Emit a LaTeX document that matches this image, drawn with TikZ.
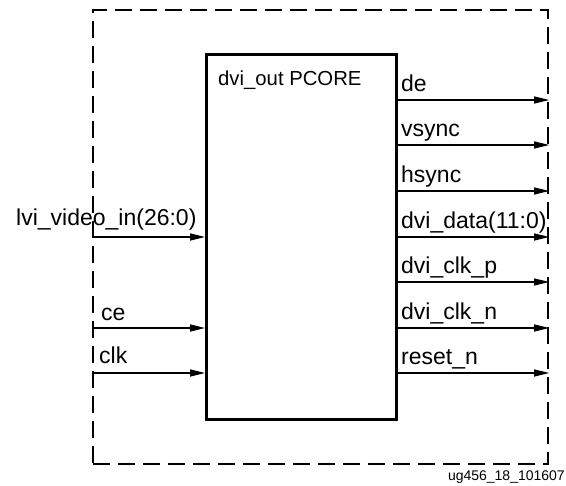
\documentclass[tikz,border=0pt]{standalone}
\usepackage{fontspec}
\setmainfont{Liberation Sans}
\usetikzlibrary{arrows.meta}
\begin{document}
\begin{tikzpicture}[x=1pt,y=-1pt,
  frame/.style={draw,dashed,dash pattern=on 17pt off 8pt,line width=2.2pt,
    minimum width=455pt,minimum height=454pt,inner sep=0pt,anchor=north west},
  core/.style={draw,line width=2.6pt,minimum width=190pt,minimum height=365pt,
    inner sep=0pt,anchor=north west},
  sig/.style={line width=1.3pt,-{Triangle[length=15pt,width=7pt]}},
  lbl/.style={font=\fontsize{23}{27}\selectfont,inner sep=0pt,anchor=base west},
  title/.style={font=\fontsize{20.3}{24}\selectfont,inner sep=0pt,anchor=base west},
  tag/.style={font=\fontsize{14}{17}\selectfont,inner sep=0pt,anchor=base east}]
\useasboundingbox (0,0) rectangle (566,486);

% outer dashed boundary and the core block
\node[frame] (frame) at (92,9) {};
\node[core] (core) at (205,53) {};
\node[title] (ttl) at (218,86) {dvi\_out PCORE};

% input ports on the left edge of the boundary
\coordinate (i1) at (frame.west |- 0,237);
\coordinate (i2) at (frame.west |- 0,328);
\coordinate (i3) at (frame.west |- 0,373);
\draw[sig] (i1) -- (core.west |- i1);
\draw[sig] (i2) -- (core.west |- i2);
\draw[sig] (i3) -- (core.west |- i3);
\node[lbl] (l1) at (16,226) {lvi\_video\_in(26:0)};
\node[lbl] (l2) at (101,321) {ce};
\node[lbl] (l3) at (99,364) {clk};

% output ports on the right edge of the boundary
\foreach \n/\y/\t in {1/100/de,2/145/vsync,3/191/hsync,4/237/dvi\_data(11:0),
                      5/282/dvi\_clk\_p,6/328/dvi\_clk\_n,7/373/reset\_n}{
  \coordinate (o\n) at (frame.east |- 0,\y);
  \draw[sig] (core.east |- o\n) -- (o\n);
  \node[lbl] (r\n) at (401,\y-8) {\t};
}

\node[tag] (id) at (565,481) {ug456\_18\_101607};
\end{tikzpicture}
\end{document}
